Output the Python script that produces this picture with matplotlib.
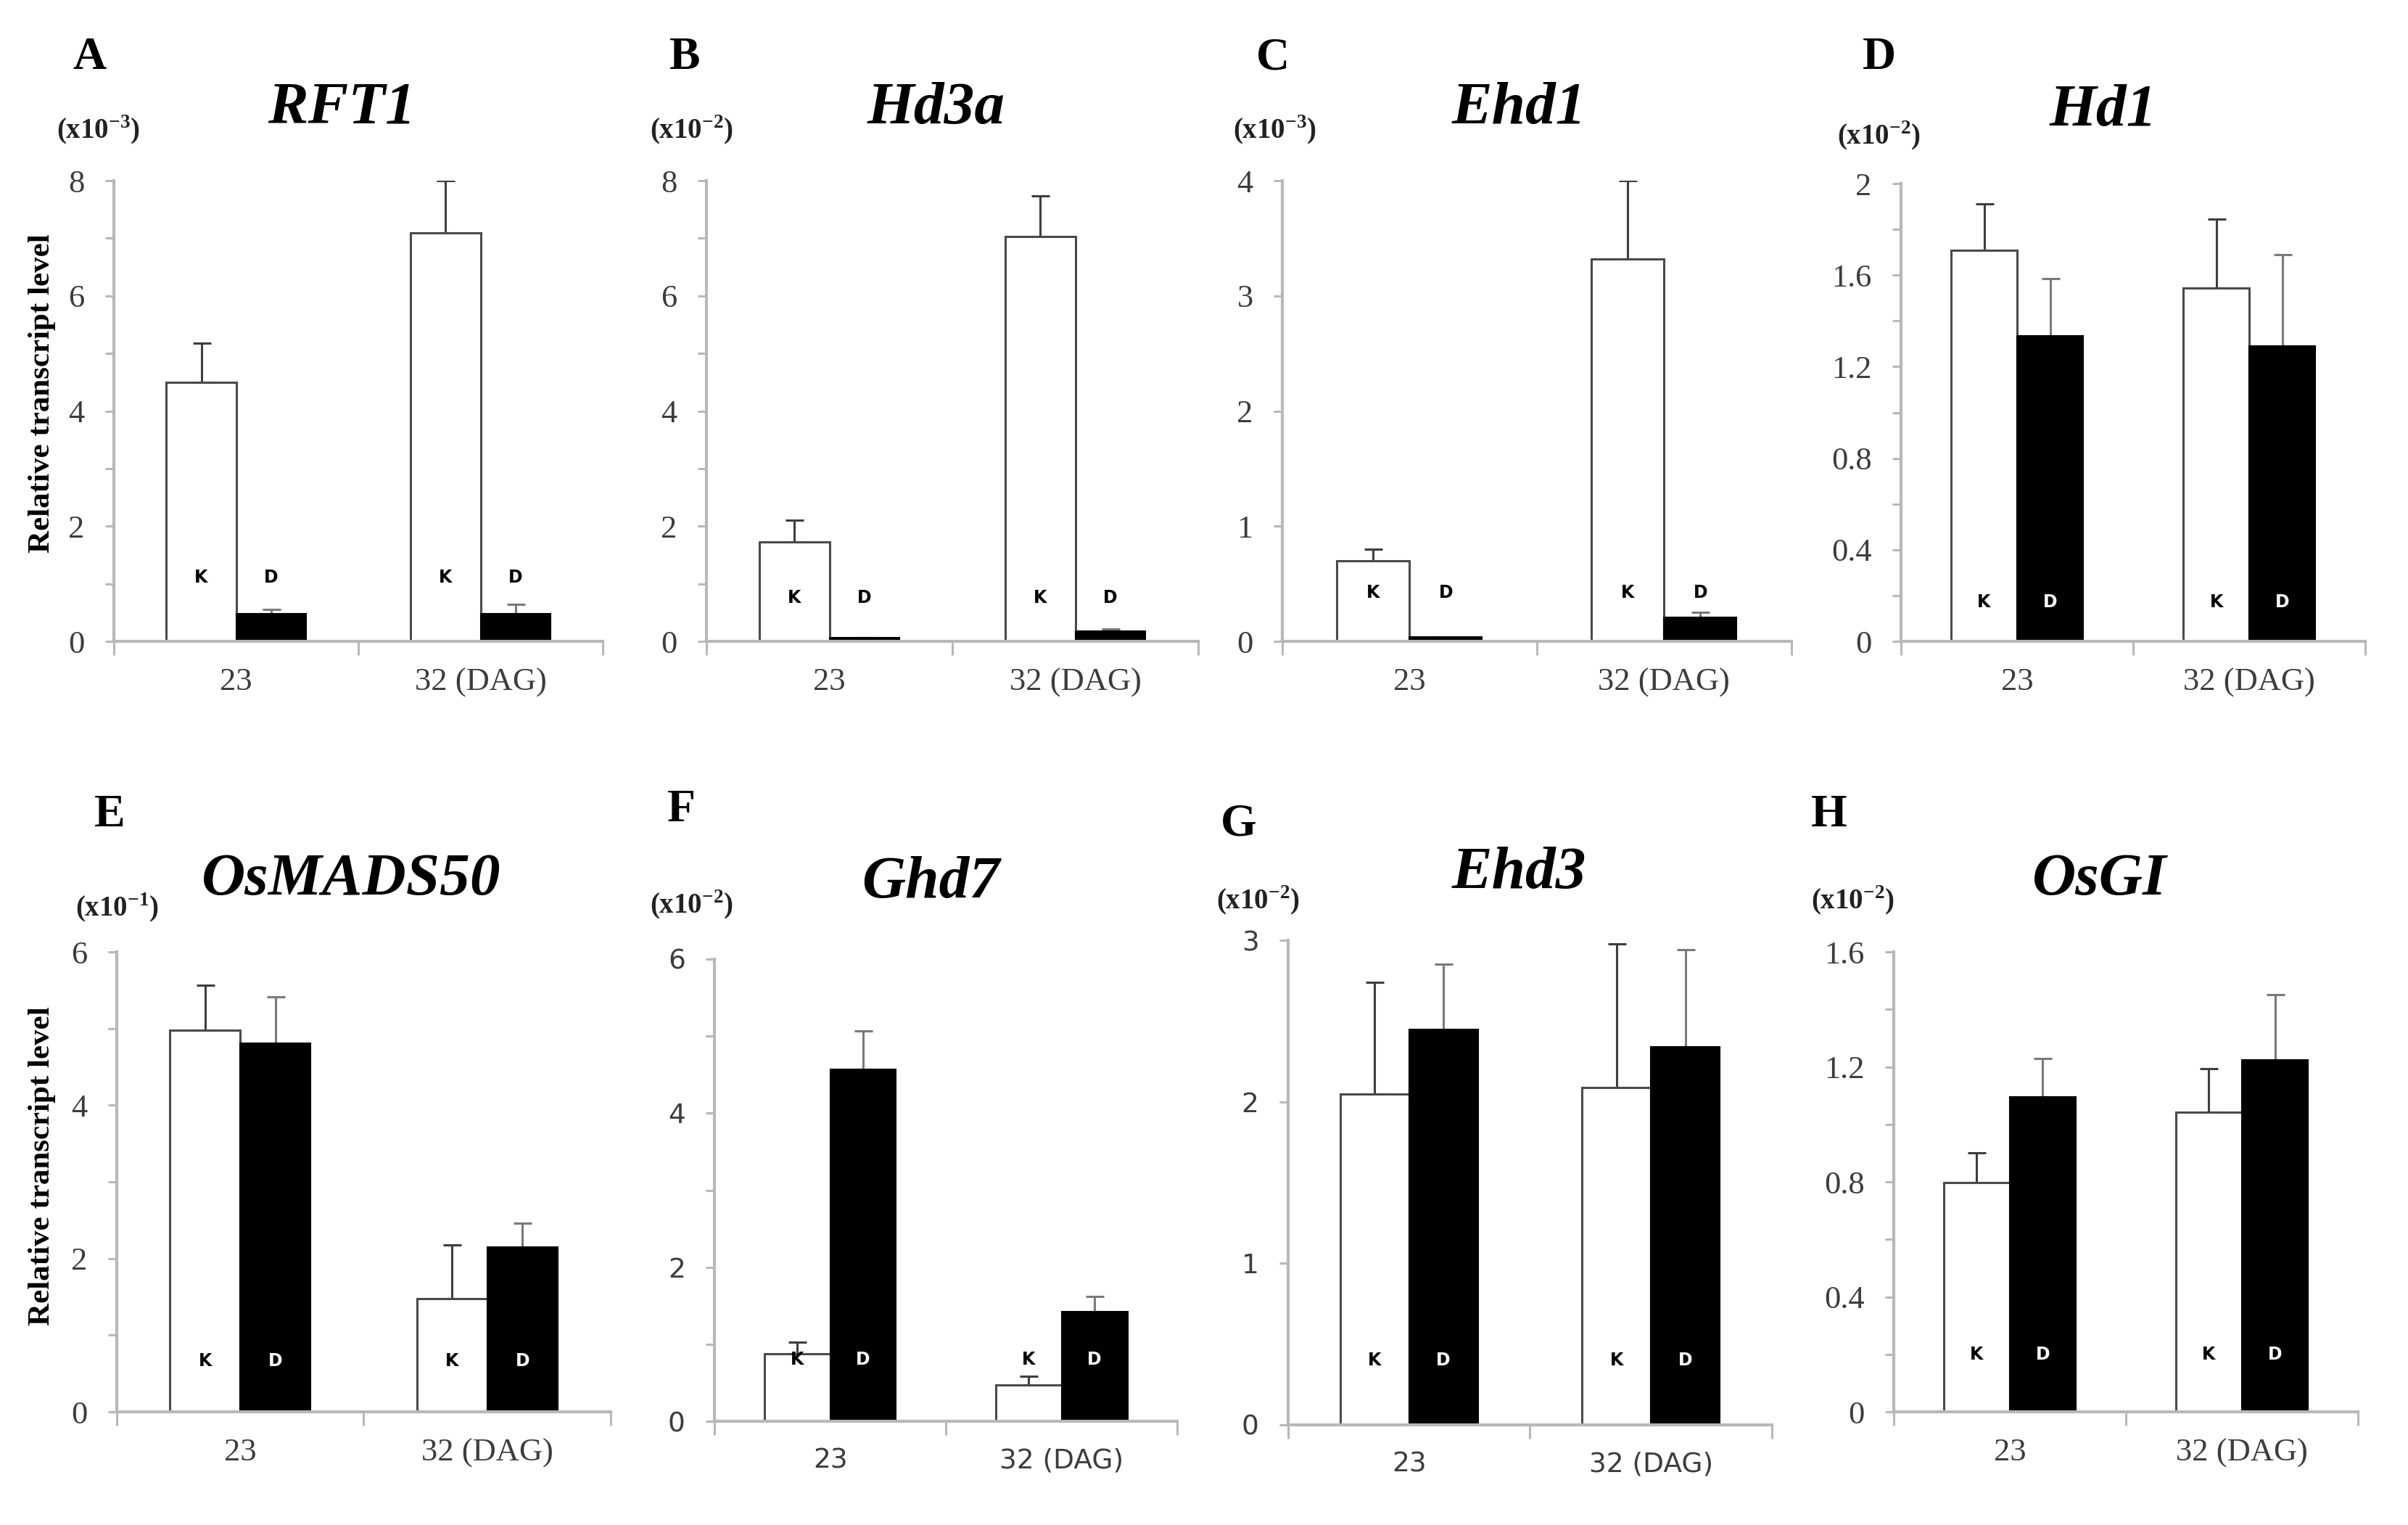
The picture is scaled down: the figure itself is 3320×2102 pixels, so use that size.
import matplotlib.pyplot as plt
from matplotlib.ticker import FixedLocator
import matplotlib.transforms as mtransforms

plt.rcParams['mathtext.fontset'] = 'custom'
plt.rcParams['mathtext.rm'] = 'Liberation Serif'
plt.rcParams['mathtext.bf'] = 'Liberation Serif:bold'

# ---- data -------------------------------------------------------------
letters = ["A", "B", "C", "D", "E", "F", "G", "H"]
genes = ["RFT1", "Hd3a", "Ehd1", "Hd1", "OsMADS50", "Ghd7", "Ehd3", "OsGI"]
units = ["-3", "-2", "-3", "-2", "-1", "-2", "-2", "-2"]
days = ["23", "32 (DAG)"]

k_mean = [[4.50, 7.09], [1.73, 7.03], [0.70, 3.32], [1.71, 1.545],
          [4.98, 1.48], [0.88, 0.47], [2.05, 2.09], [0.797, 1.042]]
k_err = [[0.68, 0.91], [0.38, 0.71], [0.10, 0.68], [0.20, 0.30],
         [0.59, 0.70], [0.15, 0.11], [0.69, 0.89], [0.105, 0.153]]
d_mean = [[0.48, 0.48], [0.06, 0.18], [0.04, 0.21], [1.335, 1.29],
          [4.81, 2.15], [4.57, 1.42], [2.45, 2.34], [1.096, 1.225]]
d_err = [[0.08, 0.16], [0.0, 0.03], [0.0, 0.04], [0.25, 0.40],
         [0.60, 0.31], [0.50, 0.20], [0.40, 0.60], [0.134, 0.226]]

y_max = [8, 8, 4, 2, 6, 6, 3, 1.6]
y_minor = [[1, 3, 5, 7], [1, 3, 5, 7], [], [0.2, 0.6, 1.0, 1.4, 1.8],
           [1, 3, 5], [1, 3, 5], [], [0.2, 0.6, 1.0, 1.4]]
y_major = [[0, 2, 4, 6, 8], [0, 2, 4, 6, 8], [0, 1, 2, 3, 4],
           [0, 0.4, 0.8, 1.2, 1.6, 2], [0, 2, 4, 6], [0, 2, 4, 6],
           [0, 1, 2, 3], [0, 0.4, 0.8, 1.2, 1.6]]
y_labels = [["0", "2", "4", "6", "8"], ["0", "2", "4", "6", "8"],
            ["0", "1", "2", "3", "4"],
            ["0", "0.4", "0.8", "1.2", "1.6", "2"],
            ["0", "2", "4", "6"], ["0", "2", "4", "6"],
            ["0", "1", "2", "3"], ["0", "0.4", "0.8", "1.2", "1.6"]]

# ---- layout (figure fractions) ---------------------------------------
axes_box = [
    [0.0473, 0.5794, 0.2030, 0.3021],
    [0.2934, 0.5794, 0.2042, 0.3021],
    [0.5325, 0.5794, 0.2114, 0.3021],
    [0.7895, 0.5794, 0.1928, 0.3002],
    [0.0485, 0.0742, 0.2051, 0.3016],
    [0.2967, 0.0680, 0.1922, 0.3031],
    [0.5349, 0.0657, 0.2009, 0.3177],
    [0.7864, 0.0742, 0.1928, 0.3016],
]
letter_xy = [(0.0373, 0.9619), (0.2843, 0.9619), (0.5286, 0.9619), (0.7804, 0.9619),
             (0.0455, 0.4653), (0.2828, 0.4686), (0.5145, 0.4591), (0.7596, 0.4653)]
title_xy = [(0.1419, 0.9286), (0.3889, 0.9286), (0.6307, 0.9286), (0.8735, 0.9272),
            (0.1458, 0.4225), (0.3864, 0.4206), (0.6307, 0.4272), (0.8720, 0.4225)]
unit_xy = [(0.0407, 0.9148), (0.2873, 0.9148), (0.5295, 0.9148), (0.7804, 0.9106),
           (0.0485, 0.4048), (0.2873, 0.4063), (0.5223, 0.4096), (0.7693, 0.4096)]
kd_y = [0.138, 0.095, 0.105, 0.086, 0.11, 0.134, 0.133, 0.124]
sans_panels = [5, 6]

axis_grey = "#b8b8b8"
text_grey = "#3c3c3c"
bar_w = 0.285

fig = plt.figure(figsize=(33.2, 21.02), dpi=100)

for i in range(8):
    ax = fig.add_axes(axes_box[i])
    x = [0, 1]
    xk = [v - bar_w / 2 for v in x]
    xd = [v + bar_w / 2 for v in x]

    ax.bar(xk, k_mean[i], width=bar_w, color="white",
           edgecolor="#4a4a4a", linewidth=2.2, zorder=3)
    ax.bar(xd, d_mean[i], width=bar_w, color="black",
           edgecolor="black", linewidth=1.5, zorder=3)

    ax.errorbar(xk, k_mean[i], yerr=[[0, 0], k_err[i]], fmt="none",
                ecolor="#3e3e3e", elinewidth=2.2, capsize=9, capthick=2.2, zorder=2)
    ax.errorbar(xd, d_mean[i], yerr=[[0, 0], d_err[i]], fmt="none",
                ecolor="#7a7a7a", elinewidth=2.2, capsize=9, capthick=2.2, zorder=2)

    ax.set_xlim(-0.5, 1.5)
    ax.set_ylim(0, y_max[i])

    for s in ["top", "right"]:
        ax.spines[s].set_visible(False)
    for s in ["left", "bottom"]:
        ax.spines[s].set_color(axis_grey)
        ax.spines[s].set_linewidth(3)
        ax.spines[s].set_zorder(4)

    if i in sans_panels:
        tick_font = dict(family="DejaVu Sans", size=27, color=text_grey)
    else:
        tick_font = dict(family="Liberation Serif", size=32, color=text_grey)

    ax.set_yticks(y_major[i])
    ax.set_yticklabels(y_labels[i], fontdict=tick_font)
    ax.yaxis.set_minor_locator(FixedLocator(y_minor[i]))
    ax.tick_params(axis="y", which="both", direction="out", length=9,
                   width=2.2, color=axis_grey, pad=20)

    ax.set_xticks(x)
    ax.set_xticklabels(days, fontdict=tick_font)
    ax.xaxis.set_minor_locator(FixedLocator([-0.5, 0.5, 1.5]))
    ax.tick_params(axis="x", which="major", length=0, pad=26)
    ax.tick_params(axis="x", which="minor", direction="out", length=14,
                   width=2.2, color=axis_grey)

    trans = mtransforms.blended_transform_factory(ax.transData, ax.transAxes)
    for j in range(2):
        ax.text(xk[j], kd_y[i], "K", transform=trans, ha="center", va="center",
                fontsize=17, fontweight="bold", family="DejaVu Sans",
                color="black", zorder=5)
        ax.text(xd[j], kd_y[i], "D", transform=trans, ha="center", va="center",
                fontsize=17, fontweight="bold", family="DejaVu Sans",
                color="white" if d_mean[i][j] > 0.3 * y_max[i] * 0.5 else "black",
                zorder=5)

    fig.text(letter_xy[i][0], letter_xy[i][1], letters[i], ha="center", va="center",
             fontsize=46, fontweight="bold", family="Liberation Serif")
    fig.text(title_xy[i][0], title_xy[i][1], genes[i], ha="center", va="center",
             fontsize=60, fontweight="bold", fontstyle="italic",
             family="Liberation Serif")
    fig.text(unit_xy[i][0], unit_xy[i][1],
             r"(x10$^{\mathbf{" + units[i] + r"}}$)", ha="center", va="center",
             fontsize=28, fontweight="bold", family="Liberation Serif",
             color="#222222")

for yy in [0.7421, 0.2355]:
    fig.text(0.0175, yy, "Relative transcript level", rotation=90,
             ha="center", va="center", fontsize=31, fontweight="bold",
             family="Liberation Serif")

fig.savefig("out.png", dpi=100, facecolor="white")
plt.close(fig)
